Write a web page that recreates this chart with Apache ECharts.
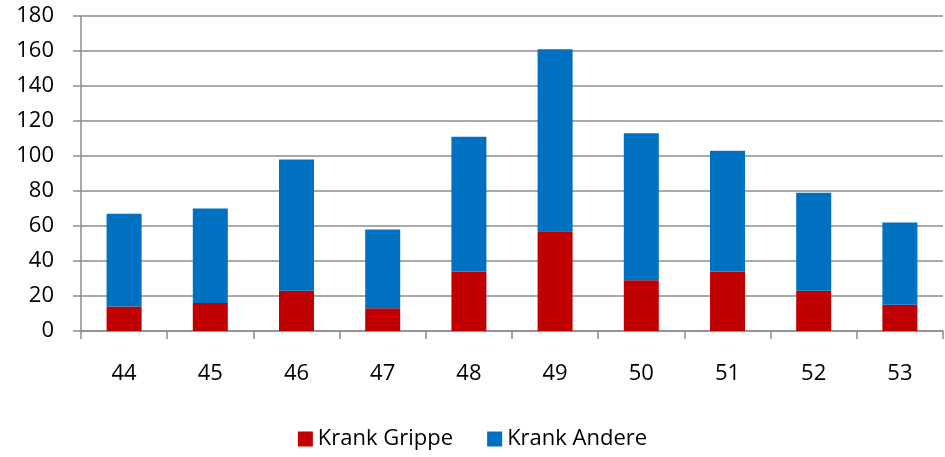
<!DOCTYPE html>
<html>
<head>
<meta charset="utf-8">
<script src="https://cdn.jsdelivr.net/npm/echarts@6/dist/echarts.min.js"></script>
<style>
  html, body { margin: 0; padding: 0; background: #fff; }
  #chart { width: 945px; height: 457px; }
</style>
</head>
<body>
<div id="chart"></div>
<script>
const weeks = ['44', '45', '46', '47', '48', '49', '50', '51', '52', '53']
const krankGrippe = [14, 16, 23, 13, 34, 57, 29, 34, 23, 15]
const krankAndere = [53, 54, 75, 45, 77, 104, 84, 69, 56, 47]

const chart = echarts.init(document.getElementById('chart'))
const font = '"Open Sans", "Noto Sans", sans-serif'
const lineColor = '#8c8c8c'

chart.setOption({
  animation: false,
  textStyle: { fontFamily: font },
  grid: { left: 81, right: 2, top: 16, bottom: 126 },
  legend: {
    bottom: 2,
    left: 'center',
    itemWidth: 15,
    itemHeight: 15,
    itemGap: 34,
    icon: 'rect',
    textStyle: { fontSize: 22, color: '#000', fontFamily: font }
  },
  xAxis: {
    type: 'category',
    data: weeks,
    axisLine: { lineStyle: { color: lineColor, width: 1.5 } },
    axisTick: { show: true, length: 8, lineStyle: { color: lineColor, width: 1.5 } },
    axisLabel: { fontSize: 22, color: '#000', margin: 32, fontFamily: font }
  },
  yAxis: {
    type: 'value',
    min: 0,
    max: 180,
    interval: 20,
    axisLine: { show: true, lineStyle: { color: lineColor, width: 1.5 } },
    axisTick: { show: true, length: 8, lineStyle: { color: lineColor, width: 1.5 } },
    splitLine: { lineStyle: { color: lineColor, width: 1.5 } },
    axisLabel: { fontSize: 22, color: '#000', margin: 27, fontFamily: font }
  },
  series: [
    {
      name: 'Krank Grippe',
      type: 'bar',
      stack: 'total',
      barWidth: 35,
      data: krankGrippe,
      itemStyle: { color: '#c00000' }
    },
    {
      name: 'Krank Andere',
      type: 'bar',
      stack: 'total',
      barWidth: 35,
      data: krankAndere,
      itemStyle: { color: '#0070c0' }
    }
  ]
})
</script>
</body>
</html>
